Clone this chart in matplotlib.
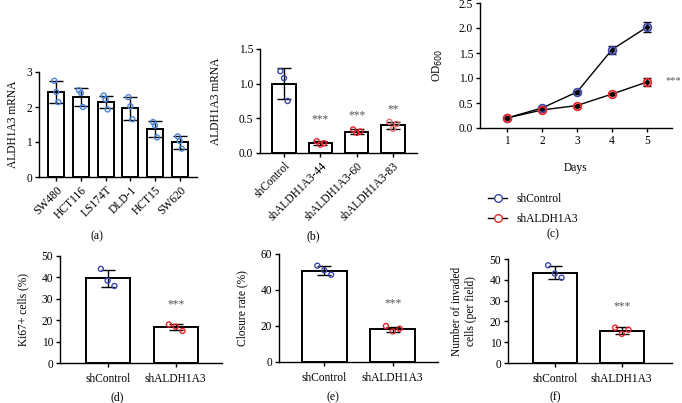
import matplotlib.pyplot as plt
import numpy as np

plt.rcParams['font.family'] = ['Liberation Serif', 'DejaVu Serif']
plt.rcParams['font.size'] = 8.3
plt.rcParams['axes.linewidth'] = 1.0

# (a) cell lines
lines_a = ['SW480', 'HCT116', 'LS174T', 'DLD-1', 'HCT15', 'SW620']
mean_a = [2.43, 2.28, 2.14, 1.97, 1.38, 0.99]
sd_a = [0.31, 0.26, 0.18, 0.33, 0.23, 0.18]
pts_a = [[2.75, 2.43, 2.14], [2.48, 2.40, 2.00], [2.33, 2.22, 1.93],
         [2.28, 2.02, 1.65], [1.57, 1.47, 1.13], [1.16, 1.03, 0.81]]

# (b) knockdown
groups_b = ['shControl', 'shALDH1A3-44', 'shALDH1A3-60', 'shALDH1A3-83']
mean_b = [1.0, 0.14, 0.31, 0.40]
sd_b = [0.22, 0.03, 0.03, 0.05]
pts_b = [[1.18, 1.08, 0.75], [0.17, 0.12, 0.14], [0.34, 0.29, 0.31], [0.45, 0.35, 0.42]]
stars_b = ['', '***', '***', '**']
stars_b_y = [0, 0.48, 0.55, 0.63]

# (c) growth curve
days = [1, 2, 3, 4, 5]
od_ctrl = [0.20, 0.40, 0.72, 1.57, 2.02]
od_ctrl_sd = [0.02, 0.03, 0.03, 0.08, 0.10]
od_kd = [0.20, 0.36, 0.45, 0.68, 0.92]
od_kd_sd = [0.02, 0.02, 0.02, 0.02, 0.08]

# (d)(e)(f) two-group assays
groups2 = ['shControl', 'shALDH1A3']
ki67_mean = [39.5, 16.7]
ki67_sd = [4.0, 1.5]
ki67_pts = [[44, 38.5, 36], [18, 17, 15]]
clos_mean = [50.8, 18.2]
clos_sd = [2.6, 1.5]
clos_pts = [[53.5, 51, 48.5], [20, 17, 18.5]]
inv_mean = [43.5, 15.5]
inv_sd = [3.0, 1.6]
inv_pts = [[47, 43, 41], [17, 14, 16]]

BLUE = '#3c48a8'
LBLUE = '#4a86dc'
RED = '#e8262a'
LRED = '#f07070'
STAR = '#555555'

W, H = 682, 403
fig = plt.figure(figsize=(6.82, 4.03), dpi=100)


def add_ax(l, r, t, b):
    return fig.add_axes([l / W, 1 - b / H, (r - l) / W, (b - t) / H])


def style(ax):
    for s in ['top', 'right']:
        ax.spines[s].set_visible(False)
    ax.tick_params(length=3, width=1, pad=2)


def bars(ax, means, sds, pts, colors, width=0.65, spread=0.1):
    x = np.arange(len(means))
    ax.bar(x, means, width, color='white', edgecolor='black', linewidth=1.4, zorder=1)
    ax.errorbar(x, means, yerr=sds, fmt='none', ecolor='black', elinewidth=1,
                capsize=5, capthick=1, zorder=3)
    for i, p in enumerate(pts):
        offs = np.array([-spread, 0.0, spread])
        ax.scatter(x[i] + offs, p, s=13, facecolors='none', edgecolors=colors[i],
                   linewidths=1, zorder=4)
    ax.set_xticks(x)


# (a)
ax = add_ax(39, 197, 72, 177)
style(ax)
bars(ax, mean_a, sd_a, pts_a, [LBLUE] * 6, spread=0.08)
ax.set_xlim(-0.7, 5.7)
ax.set_ylim(0, 3)
ax.set_yticks([0, 1, 2, 3])
ax.set_xticklabels(lines_a, rotation=45, ha='right', rotation_mode='anchor')
ax.set_ylabel('ALDH1A3 mRNA', labelpad=5)
fig.text(97 / W, 1 - 236 / H, '(a)', ha='center', va='center', fontsize=8.5)

# (b)
ax = add_ax(260, 417, 49, 153)
style(ax)
bars(ax, mean_b, sd_b, pts_b, [BLUE, RED, RED, LRED])
ax.set_xlim(-0.66, 3.66)
ax.set_ylim(0, 1.5)
ax.set_yticks([0, 0.5, 1.0, 1.5])
ax.set_yticklabels(['0.0', '0.5', '1.0', '1.5'])
ax.set_xticklabels(groups_b, rotation=45, ha='right', rotation_mode='anchor')
ax.set_ylabel('ALDH1A3 mRNA', labelpad=12)
for i, s in enumerate(stars_b):
    if s:
        ax.text(i, stars_b_y[i], s, ha='center', va='center', color=STAR)
fig.text(313 / W, 1 - 236 / H, '(b)', ha='center', va='center', fontsize=8.5)

# (c)
ax = add_ax(480, 672, 3, 128)
style(ax)
for y, sd, c in [(od_ctrl, od_ctrl_sd, BLUE), (od_kd, od_kd_sd, RED)]:
    ax.errorbar(days, y, yerr=sd, color='black', lw=1, capsize=3, capthick=1,
                marker='o', ms=2.5, zorder=2)
    ax.plot(days, y, 'o', ms=5.5, mfc='none', mec=c, mew=1.3, zorder=3)
ax.set_xlim(0.23, 5.71)
ax.set_ylim(0, 2.5)
ax.set_xticks(days)
ax.set_yticks([0, 0.5, 1.0, 1.5, 2.0, 2.5])
ax.set_yticklabels(['0.0', '0.5', '1.0', '1.5', '2.0', '2.5'])
ax.set_xlabel('Days', labelpad=11)
ax.set_ylabel('OD$_{600}$', labelpad=10)
ax.text(5.52, od_kd[-1] + 0.03, '***', ha='left', va='center', color=STAR,
        fontsize=7.5, clip_on=False)
h = [plt.Line2D([0, 1], [0, 0], color='black', lw=1, marker='o', ms=5.5,
                mfc='white', mec=c) for c in [BLUE, RED]]
fig.legend(h, ['shControl', 'shALDH1A3'], loc='upper left',
           bbox_to_anchor=(478 / W, 1 - 183 / H), frameon=False, handlelength=1.6,
           handletextpad=0.8, labelspacing=0.7, fontsize=8.3)
fig.text(553 / W, 1 - 234 / H, '(c)', ha='center', va='center', fontsize=8.5)


def two_group(l, r, t, b, means, sds, pts, ymax, yticks, ylabel, star_y, tag, tagx, xlim):
    ax = add_ax(l, r, t, b)
    style(ax)
    bars(ax, means, sds, pts, [BLUE, RED])
    ax.set_xlim(*xlim)
    ax.set_ylim(0, ymax)
    ax.set_yticks(yticks)
    ax.set_xticklabels(groups2)
    ax.tick_params(axis='x', pad=4)
    ax.set_ylabel(ylabel, labelpad=9)
    ax.text(1, star_y, '***', ha='center', va='center', color=STAR)
    fig.text(tagx / W, 1 - 397 / H, tag, ha='center', va='center', fontsize=8.5)
    return ax


two_group(60, 222, 256, 363, ki67_mean, ki67_sd, ki67_pts, 50, [0, 10, 20, 30, 40, 50],
          'Ki67+ cells (%)', 27.6, '(d)', 117, (-0.7, 1.68))
two_group(279, 438, 254, 362, clos_mean, clos_sd, clos_pts, 60, [0, 20, 40, 60],
          'Closure rate (%)', 32.8, '(e)', 333, (-0.66, 1.66))
two_group(508, 672, 259, 363, inv_mean, inv_sd, inv_pts, 50, [0, 10, 20, 30, 40, 50],
          'Number of invaded\ncells (per field)', 27.4, '(f)', 555, (-0.7, 1.75))

fig.savefig('out.png', dpi=100)
plt.close()
